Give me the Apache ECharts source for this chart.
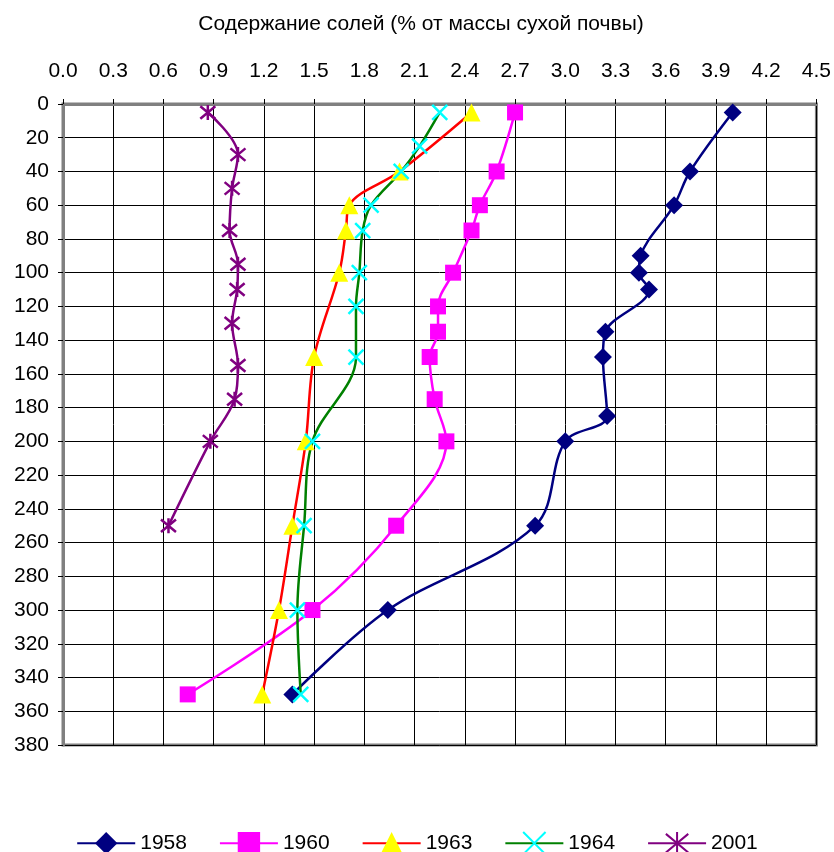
<!DOCTYPE html>
<html><head><meta charset="utf-8">
<script src="https://cdn.jsdelivr.net/npm/echarts@6/dist/echarts.min.js"></script>
<style>html,body{margin:0;padding:0;background:#fff}#c{width:834px;height:852px}</style>
</head><body><div id="c"></div>
<script>
var xTitle = 'Содержание солей (% от массы сухой почвы)';
var seriesNames = ['1958', '1960', '1963', '1964', '2001'];

var depth1958 = [5, 40, 60, 90, 100, 110, 135, 150, 185, 200, 250, 300, 350];
var salt1958  = [4.00, 3.745, 3.65, 3.45, 3.44, 3.50, 3.24, 3.225, 3.25, 3.00, 2.82, 1.94, 1.37];

var depth1960 = [5, 40, 60, 75, 100, 120, 135, 150, 175, 200, 250, 300, 350];
var salt1960  = [2.70, 2.59, 2.49, 2.44, 2.33, 2.24, 2.24, 2.19, 2.22, 2.29, 1.99, 1.49, 0.745];

var depth1963 = [5, 40, 60, 75, 100, 150, 200, 250, 300, 350];
var salt1963  = [2.44, 2.01, 1.71, 1.69, 1.65, 1.50, 1.45, 1.37, 1.29, 1.19];

var depth1964 = [5, 25, 40, 60, 75, 100, 120, 150, 200, 250, 300, 350];
var salt1964  = [2.25, 2.13, 2.02, 1.84, 1.79, 1.77, 1.75, 1.75, 1.49, 1.44, 1.40, 1.42];

var depth2001 = [5, 30, 50, 75, 95, 110, 130, 155, 175, 200, 250];
var salt2001  = [0.865, 1.045, 1.01, 0.995, 1.045, 1.04, 1.01, 1.045, 1.025, 0.88, 0.63];

function pairs(xs, ys) { return xs.map(function (v, i) { return [v, ys[i]]; }); }

var FONT = 'Liberation Sans, Arial, sans-serif';
var xSym = 'path://M0 0 L10 10 M10 0 L0 10';
var starSym = 'path://M0 0 L10 10 M10 0 L0 10 M5 -1 L5 11';

function mk(name, data, lineColor, markColor, symbol, size, extra) {
  var s = {
    name: name, type: 'line', data: data, smooth: 0.35,
    symbol: symbol, symbolSize: size, showSymbol: true,
    lineStyle: { color: lineColor, width: 2.5 },
    itemStyle: { color: markColor, borderColor: markColor, borderWidth: 0 },
    z: 3
  };
  if (extra) for (var k in extra) s[k] = extra[k];
  return s;
}

var chart = echarts.init(document.getElementById('c'));
chart.setOption({
  animation: false,
  backgroundColor: '#fff',
  textStyle: { fontFamily: FONT },
  title: {
    text: xTitle, left: 416, top: 9, textAlign: 'center',
    textStyle: { fontSize: 21, fontWeight: 'normal', color: '#000', fontFamily: FONT }
  },
  grid: { left: 63, right: 17, top: 104, bottom: 107, show: true, borderColor: '#808080', borderWidth: 3 },
  xAxis: {
    type: 'value', position: 'top', min: 0, max: 4.5, interval: 0.3,
    axisLine: { show: true, lineStyle: { color: '#808080', width: 3 } },
    axisTick: { show: true, length: 5, lineStyle: { color: '#000', width: 1 } },
    axisLabel: { fontSize: 21, color: '#000', margin: 22, fontFamily: FONT,
      formatter: function (v) { return v.toFixed(1); } },
    splitLine: { show: true, lineStyle: { color: '#000', width: 1 } }
  },
  yAxis: {
    type: 'value', inverse: true, min: 0, max: 380, interval: 20,
    axisLine: { show: true, lineStyle: { color: '#808080', width: 3 } },
    axisTick: { show: true, length: 5, lineStyle: { color: '#000', width: 1 } },
    axisLabel: { fontSize: 21, color: '#000', margin: 14, fontFamily: FONT },
    splitLine: { show: true, lineStyle: { color: '#000', width: 1 } }
  },
  legend: {
    left: 'center', top: 826,
    itemWidth: 58, itemHeight: 28, itemGap: 32,
    textStyle: { fontSize: 21, color: '#000', fontFamily: FONT },
    data: seriesNames
  },
  series: [
    mk(seriesNames[0], pairs(salt1958, depth1958), '#000080', '#000080', 'diamond', 18),
    mk(seriesNames[1], pairs(salt1960, depth1960), '#FF00FF', '#FF00FF', 'rect', 16),
    mk(seriesNames[2], pairs(salt1963, depth1963), '#FF0000', '#FFFF00', 'triangle', 18),
    mk(seriesNames[3], pairs(salt1964, depth1964), '#008000', '#00FFFF', xSym, 15,
       { itemStyle: { color: 'rgba(0,0,0,0)', borderColor: '#00FFFF', borderWidth: 2.5 } }),
    mk(seriesNames[4], pairs(salt2001, depth2001), '#800080', '#800080', starSym, 15,
       { itemStyle: { color: 'rgba(0,0,0,0)', borderColor: '#800080', borderWidth: 2.5 } })
  ]
});
</script>
</body></html>
